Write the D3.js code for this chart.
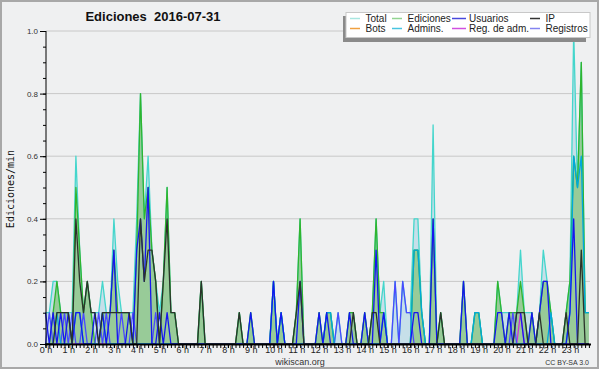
<!DOCTYPE html>
<html>
<head>
<meta charset="utf-8">
<script src="https://cdn.jsdelivr.net/npm/d3@7"></script>
<style>
  body { margin: 0; background: #fff; }
  svg { display: block; }
  text { font-family: "Liberation Sans", Arial, sans-serif; }
</style>
</head>
<body>
<svg id="chart" width="600" height="370"></svg>
<script>
// ediciones por minuto, una medida cada 10 min (6 por hora, 144 en el día)
const hours = d3.range(24)
const yTicks = [0, 0.2, 0.4, 0.6, 0.8, 1.0]

const total = [
  .1, .1, .2, .2, .1, .1,   .1, .1, .6, .3, .1, .2,   .1, .1, .1, .2, .1, .1,   .4, .2, .1, .1, .1, .1,
  .4, .8, .4, .6, .3, .2,   .1, .2, .5, .1, .1, 0,    0, 0, 0, 0, 0, .2,        0, 0, 0, 0, 0, 0,
  0, 0, 0, .1, 0, 0,        .1, 0, 0, 0, 0, 0,        .2, 0, .1, 0, 0, 0,       .1, .4, 0, 0, 0, 0,
  .1, 0, .1, .1, 0, .1,     0, 0, .1, .1, 0, 0,       .1, 0, .1, .4, .1, .2,    0, 0, .2, 0, .2, .1,
  .1, .4, .4, .1, 0, 0,     .7, 0, .1, 0, 0, 0,       0, 0, .2, 0, 0, .1,       .1, 0, 0, 0, 0, .2,
  .1, .1, .1, .1, .1, .3,   .1, .1, .1, 0, .1, .3,    .2, .1, 0, 0, 0, .1,      .2, 1.0, .5, .9, .1, .1
]
const edits = [
  0, 0, .1, .2, .1, .1,     .1, 0, .5, .3, .1, .2,    .1, 0, 0, .1, .1, .1,     .3, .1, .1, .1, .1, 0,
  .3, .8, .4, .5, .3, .2,   0, .2, .5, .1, .1, 0,     0, 0, 0, 0, 0, .2,        0, 0, 0, 0, 0, 0,
  0, 0, 0, .1, 0, 0,        .1, 0, 0, 0, 0, 0,        .2, 0, .1, 0, 0, 0,       .1, .4, 0, 0, 0, 0,
  .1, 0, .1, .1, 0, 0,      0, 0, .1, .1, 0, 0,       .1, 0, .1, .4, .1, .1,    0, 0, 0, 0, 0, 0,
  0, .3, .3, .1, 0, 0,      .4, 0, .1, 0, 0, 0,       0, 0, .2, 0, 0, .1,       .1, 0, 0, 0, 0, .2,
  .1, 0, .1, .1, .1, .2,    .1, 0, .1, 0, .1, .2,     .2, .1, 0, 0, 0, .1,      .2, .6, .5, .9, .1, .1
]
const users = [
  .1, 0, .1, 0, .1, 0,      .1, 0, .1, .1, 0, 0,      0, .1, 0, .1, 0, .1,      .3, 0, 0, 0, .1, 0,
  .3, .4, .2, .5, 0, 0,     .1, 0, .1, 0, 0, 0,       0, 0, 0, 0, 0, 0,         0, 0, 0, 0, 0, 0,
  0, 0, 0, 0, 0, 0,         .1, 0, 0, 0, 0, 0,        .2, 0, .1, 0, 0, 0,       0, .2, 0, 0, 0, 0,
  .1, 0, .1, 0, 0, 0,       0, 0, .1, 0, 0, 0,        .1, 0, 0, .3, 0, .1,      0, 0, 0, 0, 0, 0,
  0, .1, .1, 0, 0, 0,       .4, 0, 0, 0, 0, 0,        0, 0, .2, 0, 0, 0,        0, 0, 0, 0, 0, .1,
  .1, 0, .1, 0, .1, .1,     0, 0, .1, 0, .1, .2,      .2, 0, 0, 0, 0, 0,        .1, .4, 0, 0, 0, 0
]
const ip = [
  0, 0, 0, .1, .1, .1,      .1, 0, .4, .2, .1, .2,    .1, .1, 0, .1, .1, .1,    .1, .1, .1, .1, .1, 0,
  0, .4, .2, .3, .3, .2,    0, .2, .4, .1, .1, 0,     0, 0, 0, 0, 0, .2,        0, 0, 0, 0, 0, 0,
  0, 0, 0, .1, 0, 0,        0, 0, 0, 0, 0, 0,         0, 0, 0, 0, 0, 0,         .1, .2, 0, 0, 0, 0,
  0, 0, 0, 0, 0, 0,         0, 0, 0, .1, 0, 0,        0, 0, .1, .1, 0, 0,       0, 0, 0, 0, 0, 0,
  0, 0, 0, 0, 0, 0,         0, 0, .1, 0, 0, 0,        0, 0, 0, 0, 0, 0,         0, 0, 0, 0, 0, 0,
  0, 0, 0, 0, .1, .1,       .1, 0, 0, 0, .1, 0,       0, 0, 0, 0, 0, .1,        0, 0, 0, .3, 0, 0
]
const admins = [
  0, 0, 0, .1, 0, 0,        0, 0, .1, .1, 0, 0,       0, 0, 0, .1, 0, 0,        0, 0, 0, 0, 0, 0,
  0, 0, 0, 0, 0, 0,         0, 0, 0, 0, 0, 0,         0, 0, 0, 0, 0, 0,         0, 0, 0, 0, 0, 0,
  0, 0, 0, 0, 0, 0,         0, 0, 0, 0, 0, 0,         .2, 0, .1, 0, 0, 0,       0, 0, 0, 0, 0, 0,
  0, 0, .1, .1, 0, 0,       0, 0, 0, 0, 0, 0,         0, 0, 0, 0, 0, .1,        0, 0, 0, 0, 0, 0,
  0, .3, .3, .1, 0, 0,      0, 0, 0, 0, 0, 0,         0, 0, 0, 0, 0, .1,        .1, 0, 0, 0, 0, 0,
  0, 0, 0, 0, 0, 0,         0, 0, 0, 0, 0, 0,         0, .1, 0, 0, 0, 0,        .1, .6, .5, .6, .1, .1
]
const registros = [
  0, .1, 0, 0, 0, .1,       0, .1, 0, 0, .1, 0,       0, 0, .1, 0, .1, 0,       0, 0, .1, 0, 0, .1,
  0, 0, 0, 0, 0, .1,        0, 0, 0, 0, 0, 0,         0, 0, 0, 0, 0, 0,         0, 0, 0, 0, 0, 0,
  0, 0, 0, 0, 0, 0,         0, 0, 0, 0, 0, 0,         0, 0, 0, 0, 0, 0,         0, 0, 0, 0, 0, 0,
  0, 0, 0, 0, 0, .1,        0, 0, 0, 0, 0, 0,         0, 0, 0, 0, 0, 0,         0, 0, .2, 0, .2, .1,
  .1, 0, 0, 0, 0, 0,        0, 0, 0, 0, 0, 0,         0, 0, 0, 0, 0, 0,         0, 0, 0, 0, 0, 0,
  0, 0, 0, .1, 0, 0,        0, 0, 0, 0, 0, 0,         0, 0, 0, 0, 0, 0,         0, 0, 0, 0, 0, 0
]
const regAdm = total.map((d, i) => i === 125 ? 0.1 : 0)
const bots = total.map(() => 0)

const legendItems = [
  { name: 'Total', color: '#a8e6e0' }, { name: 'Ediciones', color: '#92d492' },
  { name: 'Usuarios', color: '#4848dc' }, { name: 'IP', color: '#333' },
  { name: 'Bots', color: '#f0a040' }, { name: 'Admins.', color: '#48c4e0' },
  { name: 'Reg. de adm.', color: '#d050e0' }, { name: 'Registros', color: '#8484f0' }
]

const svg = d3.select('#chart')
const plot = { left: 46, right: 590, top: 31, bottom: 344 }

svg.append('rect').attr('x', 1).attr('y', 1).attr('width', 597).attr('height', 367)
  .attr('fill', '#eff0f1').attr('stroke', '#a8a8a8').attr('stroke-width', 2)

let x = d3.scaleLinear().domain([0, 24]).range([45.5, 45.5 + 24 * 22.8])
let y = d3.scaleLinear().domain([0, 1]).range([plot.bottom, plot.top])
const xi = (d, i) => x(i / 6)

// lineas de la rejilla
svg.append('g').selectAll('line').data(yTicks.slice(1)).enter().append('line')
  .attr('x1', plot.left).attr('x2', plot.right)
  .attr('y1', d => y(d)).attr('y2', d => y(d))
  .attr('stroke', '#c8c8c8')

let area = d3.area().x(xi).y0(y(0)).y1(d => y(d))
let line = d3.line().x(xi).y(d => y(d))

svg.append('path').datum(total).attr('d', area).attr('fill', '#c6dfe9')
svg.append('path').datum(edits).attr('d', area).attr('fill', '#98cb98')

const series = [
  [total, '#44d6cc'], [edits, '#2fb52f'], [bots, '#f0a040'], [regAdm, '#cc33dd'],
  [registros, '#4a4aff'], [admins, '#00a8dc'], [users, '#1515f0'], [ip, '#2b332b']
]
series.forEach(([data, color]) => {
  svg.append('path').datum(data).attr('d', line)
    .attr('fill', 'none').attr('stroke', color).attr('stroke-width', 1.3)
    .attr('stroke-linejoin', 'round')
})

// eje Y
let yMinor = d3.axisLeft(y).tickValues(d3.range(0, 1.0001, 0.05)).tickSize(3).tickFormat('')
let yMajor = d3.axisLeft(y).tickValues(yTicks).tickSize(6).tickFormat(d3.format('.1f'))
svg.append('g').attr('transform', `translate(${plot.left},0)`).call(yMinor)
svg.append('g').attr('transform', `translate(${plot.left},0)`).call(yMajor)
  .call(g => g.selectAll('text').attr('font-size', 8).attr('fill', '#333').attr('dx', 1))
svg.selectAll('.domain').remove()
svg.append('line').attr('x1', plot.left).attr('x2', plot.left)
  .attr('y1', plot.top).attr('y2', plot.bottom).attr('stroke', '#000')

// eje X
let xMinor = d3.axisBottom(x).tickValues(d3.range(144).map(i => i / 6)).tickSize(4).tickFormat('')
let xMajor = d3.axisBottom(x).tickValues(hours).tickSize(4).tickPadding(-1).tickFormat(h => h + ' h')
svg.append('g').attr('transform', `translate(0,${plot.bottom})`).call(xMinor)
svg.append('g').attr('transform', `translate(0,${plot.bottom})`).call(xMajor)
  .call(g => g.selectAll('text').attr('font-size', 9).attr('fill', '#222'))
svg.selectAll('.domain').remove()
svg.append('line').attr('x1', plot.left - 1).attr('x2', plot.right + 1)
  .attr('y1', plot.bottom + 0.5).attr('y2', plot.bottom + 0.5)
  .attr('stroke', '#000').attr('stroke-width', 2)

// textos
svg.append('text').attr('x', 153).attr('y', 21).attr('text-anchor', 'middle')
  .attr('font-size', 13).attr('font-weight', 'bold').attr('fill', '#111')
  .attr('xml:space', 'preserve').text('Ediciones  2016-07-31')
svg.append('text').attr('transform', 'translate(14,189) rotate(-90)')
  .attr('text-anchor', 'middle').attr('font-size', 10).attr('fill', '#111')
  .style('font-family', '"DejaVu Sans Mono", monospace').text('Ediciones/min')
svg.append('text').attr('x', 300).attr('y', 365).attr('text-anchor', 'middle')
  .attr('font-size', 9).attr('fill', '#333').text('wikiscan.org')
svg.append('text').attr('x', 589).attr('y', 365).attr('text-anchor', 'end')
  .attr('font-size', 7).attr('fill', '#333').text('CC BY-SA 3.0')

// leyenda
let legend = svg.append('g')
legend.append('rect').attr('x', 343).attr('y', 16).attr('width', 243).attr('height', 26).attr('fill', '#8a8a8a')
legend.append('rect').attr('x', 346).attr('y', 12.5).attr('width', 244).attr('height', 25)
  .attr('fill', '#fff').attr('stroke', '#c8c8c8')
const colX = [350, 392, 452, 530]
let items = legend.selectAll('g.item').data(legendItems).enter().append('g')
  .attr('transform', (d, i) => `translate(${colX[i % 4]},${i < 4 ? 22 : 32})`)
items.append('line').attr('x1', 0).attr('x2', (d, i) => i % 4 === 2 ? 14 : 10)
  .attr('y1', -3.5).attr('y2', -3.5).attr('stroke', d => d.color).attr('stroke-width', 1.5)
items.append('text').attr('x', (d, i) => i % 4 === 2 ? 17 : 15.5)
  .attr('font-size', 10).attr('fill', '#222').text(d => d.name)
</script>
</body>
</html>
